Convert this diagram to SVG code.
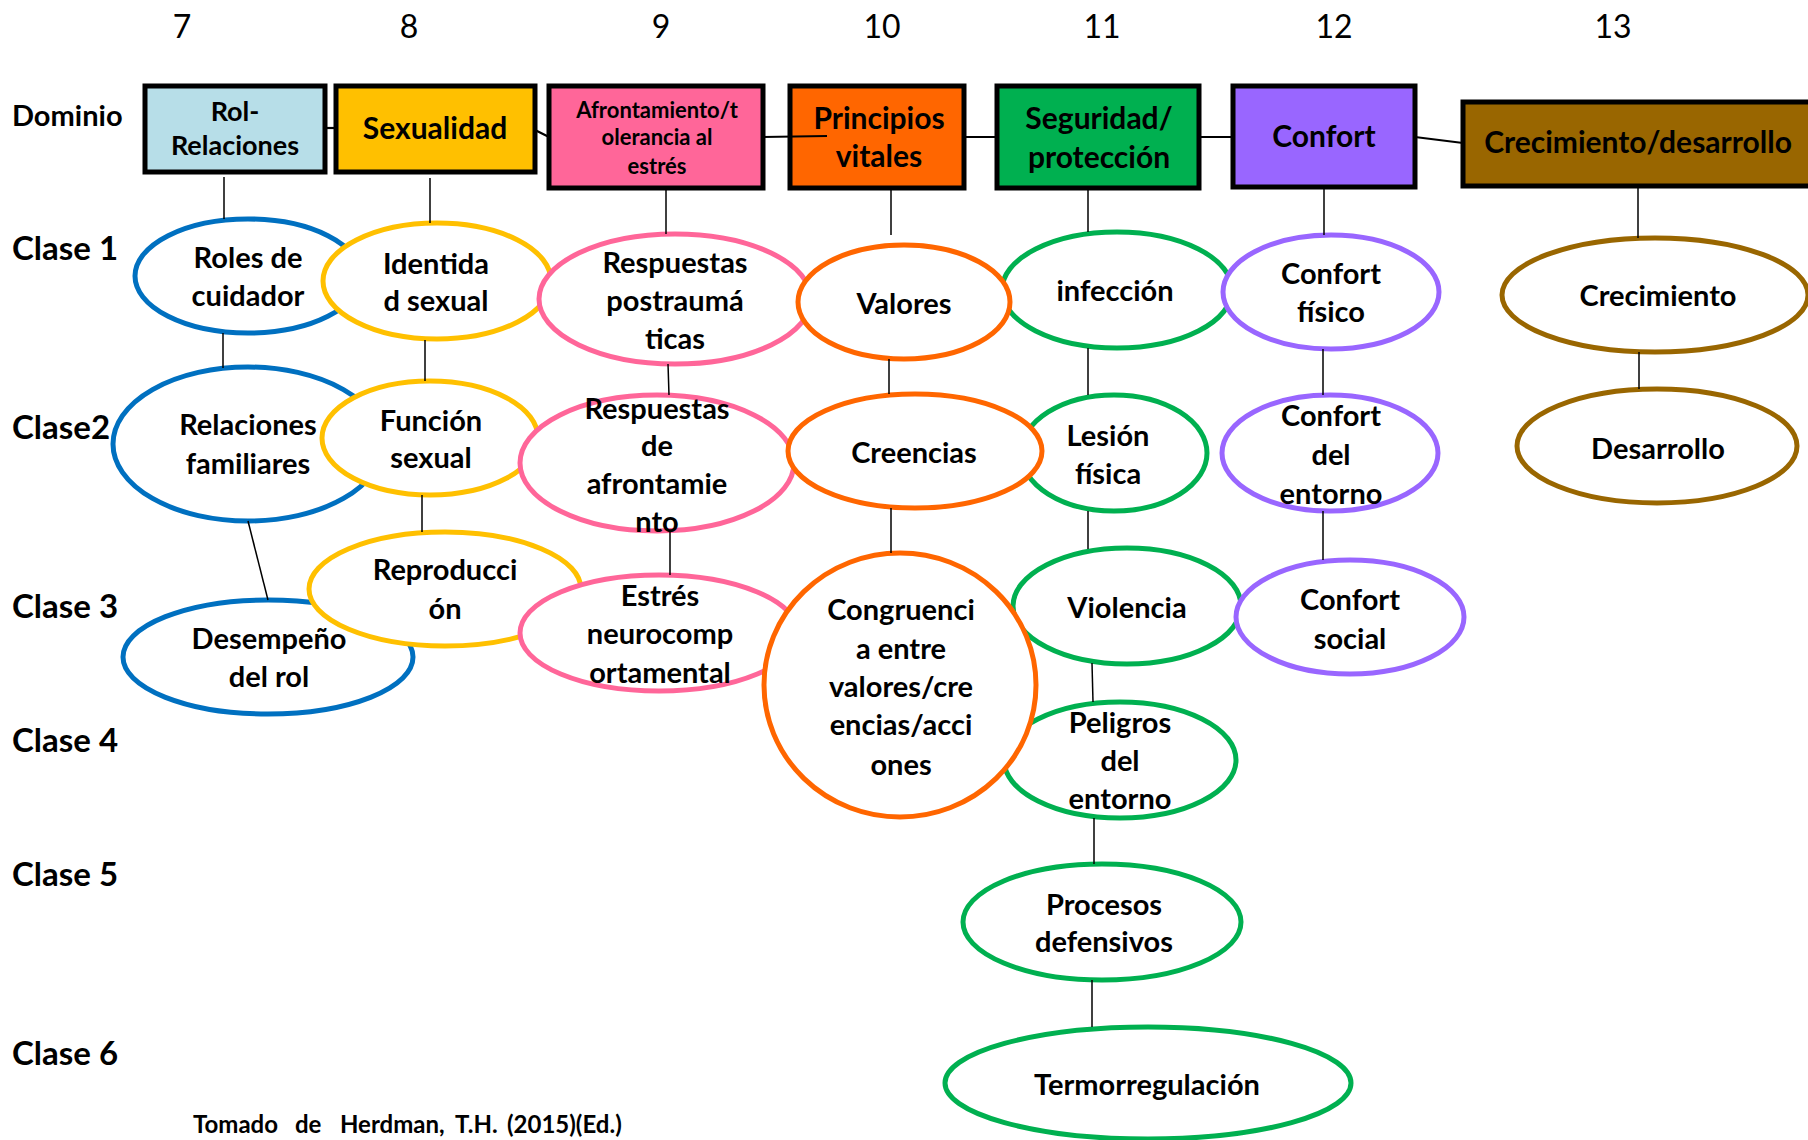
<svg xmlns="http://www.w3.org/2000/svg" width="1808" height="1140" viewBox="0 0 1808 1140">
<style>
text{font-family:Lato,"Liberation Sans",sans-serif;fill:#000;text-anchor:middle}
.num{font-size:32px;font-weight:400}
.row{font-size:33px;font-weight:700;text-anchor:start}
.dom{font-size:29px;font-weight:700;text-anchor:start}
.bx{stroke:#000;stroke-width:5}
.bt{font-size:30px;font-weight:700}
.nt{font-size:29px;font-weight:700}
.el{fill:#fff;stroke-width:5}
.blue{stroke:#0070C0}.yel{stroke:#FFC000}.pink{stroke:#FF6699}.ora{stroke:#FF6600}.grn{stroke:#00B050}.pur{stroke:#9966FF}.brn{stroke:#996600}
.cn line{stroke:#000;stroke-width:1.5}
.cn .h{stroke-width:2.2}
</style>
<rect width="1808" height="1140" fill="#fff"/>
<g id="labels">
<text class="num" x="182" y="38">7</text>
<text class="num" x="409" y="38">8</text>
<text class="num" x="661" y="38">9</text>
<text class="num" x="882" y="38">10</text>
<text class="num" x="1102" y="38">11</text>
<text class="num" x="1334" y="38">12</text>
<text class="num" x="1613" y="38">13</text>
<text class="dom" x="12" y="126">Dominio</text>
<text class="row" x="12" y="260">Clase 1</text>
<text class="row" x="12" y="439">Clase2</text>
<text class="row" x="12" y="618">Clase 3</text>
<text class="row" x="12" y="752">Clase 4</text>
<text class="row" x="12" y="886">Clase 5</text>
<text class="row" x="12" y="1065">Clase 6</text>
<text style="font-size:24px;font-weight:700;text-anchor:start" y="1133"><tspan x="193">Tomado</tspan><tspan x="295">de</tspan><tspan x="340">Herdman,</tspan><tspan x="455">T.H.</tspan><tspan x="507">(2015)(Ed.)</tspan></text>
</g>
<g id="d7"><rect class="bx" x="145" y="86" width="180" height="86" fill="#B7DEE8"/><text class="bt" style="font-size:27px" x="235" y="121">Rol-</text><text class="bt" style="font-size:27px" x="235" y="155">Relaciones</text></g>
<g id="d8"><rect class="bx" x="336" y="86" width="199" height="86" fill="#FFC000"/><text class="bt" x="435" y="139">Sexualidad</text></g>
<g id="d9"><rect class="bx" x="549" y="86" width="214" height="102" fill="#FF6699"/><text class="bt" style="font-size:22px" x="657" y="118">Afrontamiento/t</text><text class="bt" style="font-size:22px" x="657" y="145">olerancia al</text><text class="bt" style="font-size:22px" x="657" y="174">estrés</text></g>
<g id="d10"><rect class="bx" x="790" y="86" width="174" height="102" fill="#FF6600"/><text class="bt" x="879" y="129">Principios</text><text class="bt" x="879" y="167">vitales</text></g>
<g id="d11"><rect class="bx" x="997" y="86" width="202" height="102" fill="#00B050"/><text class="bt" x="1099" y="129">Seguridad/</text><text class="bt" x="1099" y="168">protección</text></g>
<g id="d12"><rect class="bx" x="1233" y="86" width="182" height="101" fill="#9966FF"/><text class="bt" x="1324" y="147">Confort</text></g>
<g id="d13"><rect class="bx" x="1463" y="102" width="360" height="84" fill="#996600"/><text class="bt" x="1638" y="153">Crecimiento/desarrollo</text></g>

<g id="c7-1"><ellipse class="el blue" cx="248" cy="276" rx="113" ry="57"/><text class="nt" x="248" y="268">Roles de</text><text class="nt" x="248" y="306">cuidador</text></g>
<g id="c7-2"><ellipse class="el blue" cx="248" cy="444" rx="135" ry="77"/><text class="nt" x="248" y="435">Relaciones</text><text class="nt" x="248" y="474">familiares</text></g>
<g id="c7-3"><ellipse class="el blue" cx="268" cy="657" rx="145" ry="57"/><text class="nt" x="269" y="649">Desempeño</text><text class="nt" x="269" y="687">del rol</text></g>
<g id="c8-1"><ellipse class="el yel" cx="437" cy="281" rx="114" ry="58"/><text class="nt" x="436" y="274">Identida</text><text class="nt" x="436" y="311">d sexual</text></g>
<g id="c8-2"><ellipse class="el yel" cx="430" cy="438" rx="108" ry="57"/><text class="nt" x="431" y="431">Función</text><text class="nt" x="431" y="468">sexual</text></g>
<g id="c8-3"><ellipse class="el yel" cx="445" cy="589" rx="136" ry="57"/><text class="nt" x="445" y="580">Reproducci</text><text class="nt" x="445" y="619">ón</text></g>
<g id="c9-1"><ellipse class="el pink" cx="675" cy="299" rx="136" ry="65"/><text class="nt" x="675" y="273">Respuestas</text><text class="nt" x="675" y="311">postraumá</text><text class="nt" x="675" y="349">ticas</text></g>
<g id="c9-2"><ellipse class="el pink" cx="657" cy="463" rx="137" ry="68"/><text class="nt" x="657" y="419">Respuestas</text><text class="nt" x="657" y="456">de</text><text class="nt" x="657" y="494">afrontamie</text><text class="nt" x="657" y="532">nto</text></g>
<g id="c9-3"><ellipse class="el pink" cx="659" cy="633" rx="139" ry="58"/><text class="nt" x="660" y="606">Estrés</text><text class="nt" x="660" y="644">neurocomp</text><text class="nt" x="660" y="683">ortamental</text></g>
<g id="c11-1"><ellipse class="el grn" cx="1117" cy="290" rx="115" ry="58"/><text class="nt" x="1115" y="301">infección</text></g>
<g id="c11-2"><ellipse class="el grn" cx="1114" cy="453" rx="93" ry="58"/><text class="nt" x="1108" y="446">Lesión</text><text class="nt" x="1108" y="484">física</text></g>
<g id="c11-3"><ellipse class="el grn" cx="1127" cy="606" rx="114" ry="58"/><text class="nt" x="1127" y="618">Violencia</text></g>
<g id="c11-4"><ellipse class="el grn" cx="1120" cy="760" rx="116" ry="58"/><text class="nt" x="1120" y="733">Peligros</text><text class="nt" x="1120" y="771">del</text><text class="nt" x="1120" y="809">entorno</text></g>
<g id="c11-5"><ellipse class="el grn" cx="1102" cy="922" rx="139" ry="58"/><text class="nt" x="1104" y="915">Procesos</text><text class="nt" x="1104" y="952">defensivos</text></g>
<g id="c11-6"><ellipse class="el grn" cx="1148" cy="1083" rx="203" ry="56"/><text class="nt" x="1147" y="1095">Termorregulación</text></g>
<g id="c10-1"><ellipse class="el ora" cx="904" cy="302" rx="106" ry="57"/><text class="nt" x="904" y="314">Valores</text></g>
<g id="c10-2"><ellipse class="el ora" cx="915" cy="451" rx="127" ry="57"/><text class="nt" x="914" y="463">Creencias</text></g>
<g id="c10-3"><ellipse class="el ora" cx="900" cy="685" rx="136" ry="132"/><text class="nt" x="901" y="620">Congruenci</text><text class="nt" x="901" y="659">a entre</text><text class="nt" x="901" y="697">valores/cre</text><text class="nt" x="901" y="735">encias/acci</text><text class="nt" x="901" y="775">ones</text></g>
<g id="c12-1"><ellipse class="el pur" cx="1331" cy="292" rx="108" ry="57"/><text class="nt" x="1331" y="284">Confort</text><text class="nt" x="1331" y="322">físico</text></g>
<g id="c12-2"><ellipse class="el pur" cx="1330" cy="453" rx="108" ry="58"/><text class="nt" x="1331" y="426">Confort</text><text class="nt" x="1331" y="465">del</text><text class="nt" x="1331" y="504">entorno</text></g>
<g id="c12-3"><ellipse class="el pur" cx="1350" cy="617" rx="114" ry="57"/><text class="nt" x="1350" y="610">Confort</text><text class="nt" x="1350" y="649">social</text></g>
<g id="c13-1"><ellipse class="el brn" cx="1655" cy="295" rx="153" ry="57"/><text class="nt" x="1658" y="306">Crecimiento</text></g>
<g id="c13-2"><ellipse class="el brn" cx="1657" cy="446" rx="140" ry="57"/><text class="nt" x="1658" y="459">Desarrollo</text></g>

<g id="connectors" class="cn">
<line class="h" x1="325" y1="128" x2="336" y2="128"/>
<line class="h" x1="535" y1="130" x2="549" y2="137"/>
<line class="h" x1="763" y1="137" x2="827" y2="136"/>
<line class="h" x1="964" y1="137" x2="997" y2="137"/>
<line class="h" x1="1199" y1="137" x2="1233" y2="137"/>
<line class="h" x1="1415" y1="137" x2="1463" y2="143"/>
<line x1="224" y1="177" x2="224" y2="219"/>
<line x1="223" y1="333" x2="223" y2="368"/>
<line x1="248" y1="521" x2="268" y2="600"/>
<line x1="430" y1="178" x2="430" y2="223"/>
<line x1="425" y1="340" x2="425" y2="381"/>
<line x1="422" y1="495" x2="422" y2="532"/>
<line x1="666" y1="190" x2="666" y2="234"/>
<line x1="668" y1="364" x2="669" y2="395"/>
<line x1="670" y1="531" x2="670" y2="575"/>
<line x1="891" y1="190" x2="891" y2="235"/>
<line x1="889" y1="359" x2="889" y2="394"/>
<line x1="891" y1="508" x2="891" y2="553"/>
<line x1="1088" y1="186" x2="1088" y2="232"/>
<line x1="1088" y1="348" x2="1088" y2="395"/>
<line x1="1088" y1="511" x2="1088" y2="549"/>
<line x1="1092" y1="663" x2="1093" y2="702"/>
<line x1="1094" y1="818" x2="1094" y2="864"/>
<line x1="1092" y1="980" x2="1092" y2="1027"/>
<line x1="1324" y1="187" x2="1324" y2="235"/>
<line x1="1323" y1="349" x2="1323" y2="395"/>
<line x1="1323" y1="511" x2="1323" y2="560"/>
<line x1="1638" y1="186" x2="1638" y2="238"/>
<line x1="1639" y1="352" x2="1639" y2="389"/>
</g>
</svg>
